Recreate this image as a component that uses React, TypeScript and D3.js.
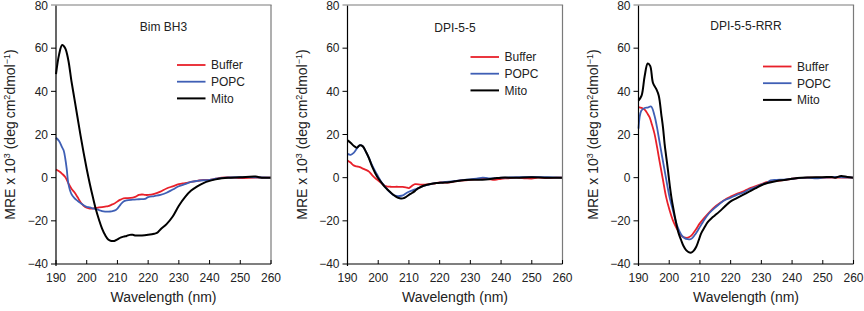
import React from 'react';
import * as d3 from 'd3';

// ---------- data ----------
const wavelengthTicks = [190, 200, 210, 220, 230, 240, 250, 260];
const mreTicks = [-40, -20, 0, 20, 40, 60, 80];
const seriesNames = ['Buffer', 'POPC', 'Mito'];
const panelTitles = ['Bim BH3', 'DPI-5-5', 'DPI-5-5-RRR'];

// Bim BH3 panel: [wavelength nm, MRE x 10^3]
const bimBuffer: [number, number][] = [
  [190, 3.8], [191, 3], [192, 1.8], [193, 0.3], [194, -2.5], [195, -5], [196, -6.8], [197, -9], [198, -11.4],
  [199, -13], [200, -13.9], [201, -14.3], [202, -14.3], [203, -14], [204, -13.8], [205, -13.6], [206, -13.4],
  [207, -13.2], [208, -12.6], [209, -12], [210, -11], [211, -10.2], [212, -9.6], [213, -9.5], [215, -9.2],
  [216, -8.8], [217, -8], [218, -7.8], [219, -8], [220, -8], [222, -7.5], [224, -6.5], [226, -5], [228, -4],
  [230, -3], [232, -2.5], [234, -2], [236, -1.5], [238, -1], [240, -1], [242, -0.5], [244, 0], [248, 0],
  [250, -0.2], [255, 0], [260, 0],
];
const bimPopc: [number, number][] = [
  [190, 18.5], [191, 17], [192, 14], [192.5, 12.6], [193, 9], [193.5, 4], [194, -2.5], [195, -7.5], [196, -9.5],
  [197, -10.7], [198, -11.8], [199, -12.8], [200, -13.5], [201, -13.8], [202, -14.2], [203, -14.6], [204, -15],
  [205, -15.5], [206, -15.7], [207, -15.7], [208, -15.6], [209, -15.3], [210, -14.3], [211, -12.5], [212, -11],
  [213, -10.5], [215, -10.2], [217, -10], [219, -9.8], [220, -9], [222, -8.5], [224, -8], [226, -7],
  [228, -5.5], [230, -4], [232, -3], [234, -2], [236, -1.5], [238, -1.2], [240, -1], [242, -0.5], [245, 0],
  [250, 0.2], [255, 0.2], [260, 0],
];
const bimMito: [number, number][] = [
  [190, 48], [191, 57], [192, 61.5], [193, 60], [194, 54.5], [195, 45], [196, 36.5], [197, 28], [198, 19.5],
  [199, 11.5], [200, 4], [201, -2.8], [202, -9], [203, -14.8], [204, -19.5], [205, -23.6], [206, -26.6],
  [207, -28.6], [208, -29.3], [209, -29.3], [210, -28.6], [211, -27.8], [212, -27.3], [213, -27], [214, -26.5],
  [215, -26.5], [216, -26.8], [218, -26.8], [220, -26.5], [222, -26], [223, -25.5], [224, -24], [226, -21.5],
  [228, -18], [230, -13], [232, -9], [234, -6], [236, -4], [238, -2.5], [240, -1.5], [242, -0.8], [244, -0.3],
  [246, 0], [250, 0.2], [255, 0.5], [257, 0], [260, 0],
];

// DPI-5-5 panel
const dpiBuffer: [number, number][] = [
  [190, 8], [191, 7], [192, 5.7], [193, 5.2], [194, 4.9], [195, 4.2], [196, 3.6], [197, 2.8], [198, 1.2],
  [199, -0.2], [200, -1.3], [201, -2.5], [202, -3.6], [203, -4.1], [204, -4.2], [205, -4.3], [206, -4.2],
  [207, -4.3], [208, -4.3], [209, -4.5], [210, -4.8], [211, -3.8], [212, -3], [214, -3.2], [216, -3.1],
  [218, -2.8], [220, -2.2], [222, -2.3], [224, -2], [226, -1.5], [228, -1.2], [230, -1], [235, -0.5],
  [238, -1], [240, -0.5], [242, -0.3], [245, 0], [248, -0.3], [250, -0.4], [252, 0], [255, -0.2], [258, 0],
  [260, 0],
];
const dpiPopc: [number, number][] = [
  [190, 11], [191, 10.6], [192, 11.5], [193, 13.4], [194, 15], [195, 14.5], [196, 12], [197, 9], [198, 5.8],
  [199, 3], [200, 0.5], [201, -2], [202, -3.8], [203, -5.5], [204, -7], [205, -8.1], [206, -8.5], [207, -8.5],
  [208, -8.2], [209, -7.3], [210, -6.5], [212, -5.4], [214, -4.3], [216, -3.4], [218, -2.6], [220, -2.3],
  [222, -2], [225, -1.5], [228, -1], [232, -0.5], [234, 0], [236, -0.3], [240, 0], [250, 0.3], [255, 0.2],
  [260, 0],
];
const dpiMito: [number, number][] = [
  [190, 17.3], [191, 16.2], [192, 14.8], [193, 13.9], [194, 15], [195, 14.5], [196, 12], [197, 9],
  [198, 5.2], [199, 2.2], [200, -0.3], [201, -2.2], [202, -4], [203, -5.5], [204, -6.8], [205, -8],
  [206, -9], [207, -9.5], [208, -9.6], [209, -9], [210, -8], [211, -7.1], [212, -6.1], [213, -5],
  [214, -4.2], [215, -3.6], [217, -2.9], [219, -2.5], [221, -2.3], [223, -2.1], [225, -1.7], [227, -1.3],
  [230, -1], [235, -0.8], [238, -0.3], [240, 0], [245, 0], [250, 0.2], [255, 0], [260, 0],
];

// DPI-5-5-RRR panel
const rrrBuffer: [number, number][] = [
  [190, 32.7], [191, 32.3], [192, 31.5], [193, 29.5], [193.6, 28], [194.4, 24.5], [195.2, 20.4], [196, 14.5],
  [196.8, 8], [197.9, -0.5], [199, -9], [200.1, -15], [201.2, -19.8], [202, -22.3], [202.8, -24.4],
  [203.6, -26.2], [204.5, -27.5], [205.3, -27.8], [206.1, -27.8], [207, -27.1], [207.7, -26], [208.8, -23.8],
  [209.9, -21.3], [211.5, -18.5], [213.2, -15.8], [215.3, -13], [218, -10.3], [220, -8.8], [222, -7.5],
  [224, -6.5], [226, -5], [228, -4], [230, -3], [232, -2], [235, -1.5], [238, -1], [240, -0.5], [245, 0],
  [250, 0], [255, 0], [260, 0],
];
const rrrPopc: [number, number][] = [
  [190, 22.7], [190.9, 31], [192, 32.3], [193, 32.5], [194.1, 33], [195.2, 28.8], [196, 23.5], [196.8, 17],
  [197.6, 10.5], [198.5, 3.4], [199.3, -3], [200.1, -9], [201, -14], [201.7, -18], [202.5, -22], [203.4, -25],
  [204.2, -27], [205, -28], [206, -28.5], [206.7, -28.6], [207.5, -28], [208.3, -26.6], [209.5, -24],
  [211, -20.5], [213, -16.5], [215.3, -13.5], [218, -10.5], [220, -9.3], [222, -8], [224, -7], [226, -5.5],
  [228, -4.5], [230, -3.2], [232, -2.3], [233, -1.2], [235, -1], [238, -0.8], [240, -0.5], [245, 0],
  [248, -0.3], [250, 0], [255, 0.3], [260, 0],
];
const rrrMito: [number, number][] = [
  [190, 35.7], [191, 38], [192, 47], [193, 52.9], [193.8, 51.8], [194.7, 44], [195.8, 41], [196.6, 38],
  [197.4, 29.6], [198, 23], [198.5, 15.7], [199, 10], [199.6, 3.4], [200, -1.5], [200.7, -9], [201.5, -15.5],
  [202.3, -21.3], [203, -25.5], [203.9, -29], [204.7, -31.8], [205.5, -33.6], [206.3, -34.5], [207.2, -34.7],
  [208, -33.8], [208.8, -32], [209.6, -29], [210.4, -25.8], [211.5, -23], [212.6, -20.5], [214, -18.5],
  [215.3, -17], [216.5, -15.5], [218, -13.5], [220, -11], [222, -9.5], [224, -8], [226, -6.5], [228, -5],
  [230, -3.5], [232, -2.5], [235, -1.5], [238, -1], [240, -0.5], [243, 0], [250, 0.2], [253, 0.3], [254, 0],
  [256, 0.8], [258, 0.3], [260, 0],
];

const panelSeries = [
  [bimBuffer, bimPopc, bimMito],
  [dpiBuffer, dpiPopc, dpiMito],
  [rrrBuffer, rrrPopc, rrrMito],
];

// ---------- layout / style ----------
const W = 864;
const H = 311;
const PLOT_W = 215;
const TOP = 5;
const BOTTOM = 264;
const panelLefts = [56, 347.5, 638.5];
const legendPos = [
  { x: 121, y: 65 },
  { x: 123, y: 57 },
  { x: 124.5, y: 66.5 },
];
const titleBaselines = [30.5, 31.5, 29.5];
const seriesColors = ['#e8202a', '#3f5fb5', '#000000'];
const seriesWidths = [1.8, 1.8, 2];
const FONT = '"Liberation Sans", Arial, Helvetica, sans-serif';

function Panel({ idx }: { idx: number }) {
  const left = panelLefts[idx];
  const x = d3.scaleLinear().domain([190, 260]).range([0, PLOT_W]);
  const y = d3.scaleLinear().domain([-40, 80]).range([BOTTOM - TOP, 0]);
  const ph = BOTTOM - TOP;
  const line = d3
    .line<[number, number]>()
    .x((d) => x(d[0]))
    .y((d) => y(d[1]))
    .curve(d3.curveCatmullRom.alpha(0.5));
  const lg = legendPos[idx];
  return (
    <g transform={`translate(${left},${TOP})`} fontFamily={FONT}>
      {/* series */}
      <g>
        {panelSeries[idx].map((s, i) => (
          <path
            key={i}
            d={line(s) || ''}
            fill="none"
            stroke={seriesColors[i]}
            strokeWidth={seriesWidths[i]}
            strokeLinejoin="round"
          />
        ))}
      </g>
      {/* y axis */}
      <line x1={0} x2={0} y1={0.6} y2={ph + 2} stroke="#000" strokeWidth={1.2} />
      {mreTicks.map((t) => (
        <g key={t} transform={`translate(0,${y(t)})`}>
          {t !== 80 && <line x1={-5} x2={0} stroke="#000" strokeWidth={1} />}
          <text x={-8} dy={t === 80 ? '0.4em' : '0.35em'} textAnchor="end" fontSize={12} fill="#222">
            {t < 0 ? `\u2212${Math.abs(t)}` : t}
          </text>
        </g>
      ))}
      {/* frame top (gray, running over the 80 tick) & right */}
      <line x1={-5} x2={PLOT_W + 0.6} y1={0} y2={0} stroke="#7a7a7a" strokeWidth={1.2} />
      <line x1={PLOT_W} x2={PLOT_W} y1={0} y2={ph} stroke="#7a7a7a" strokeWidth={1.2} />
      {/* x axis */}
      <line x1={0} x2={PLOT_W} y1={ph} y2={ph} stroke="#000" strokeWidth={1.2} />
      {wavelengthTicks.map((t) => (
        <g key={t} transform={`translate(${x(t)},${ph})`}>
          <line y1={-4} y2={0} stroke="#000" strokeWidth={1} />
          <text y={18} textAnchor="middle" fontSize={12} fill="#222">
            {t}
          </text>
        </g>
      ))}
      <text x={PLOT_W / 2} y={ph + 38} textAnchor="middle" fontSize={14} fill="#222">
        Wavelength (nm)
      </text>
      <text
        transform={`translate(${-41},${ph / 2}) rotate(-90)`}
        textAnchor="middle"
        fontSize={14}
        fill="#222"
      >
        MRE x 10
        <tspan dy={-5} fontSize={9}>3</tspan>
        <tspan dy={5}> (deg</tspan>
        <tspan dx={3}>cm</tspan>
        <tspan dy={-5} fontSize={9}>2</tspan>
        <tspan dy={5}>dmol</tspan>
        <tspan dy={-5} fontSize={9}>{'\u22121'}</tspan>
        <tspan dy={5}>)</tspan>
      </text>
      {/* title */}
      <text x={PLOT_W / 2} y={titleBaselines[idx] - TOP} textAnchor="middle" fontSize={12} fill="#222">
        {panelTitles[idx]}
      </text>
      {/* legend */}
      {seriesNames.map((n, i) => (
        <g key={n} transform={`translate(${lg.x},${lg.y - TOP + i * 16.7})`}>
          <line x1={0} x2={28.5} stroke={seriesColors[i]} strokeWidth={seriesWidths[i]} />
          <text x={34} dy="0.36em" fontSize={12} fill="#222">
            {n}
          </text>
        </g>
      ))}
    </g>
  );
}

export default function App() {
  return (
    <svg
      width={W}
      height={H}
      viewBox={`0 0 ${W} ${H}`}
      style={{ position: 'absolute', left: 0, top: 0, background: '#fff' }}
    >
      <rect width={W} height={H} fill="#fff" />
      {[0, 1, 2].map((i) => (
        <Panel key={i} idx={i} />
      ))}
    </svg>
  );
}
